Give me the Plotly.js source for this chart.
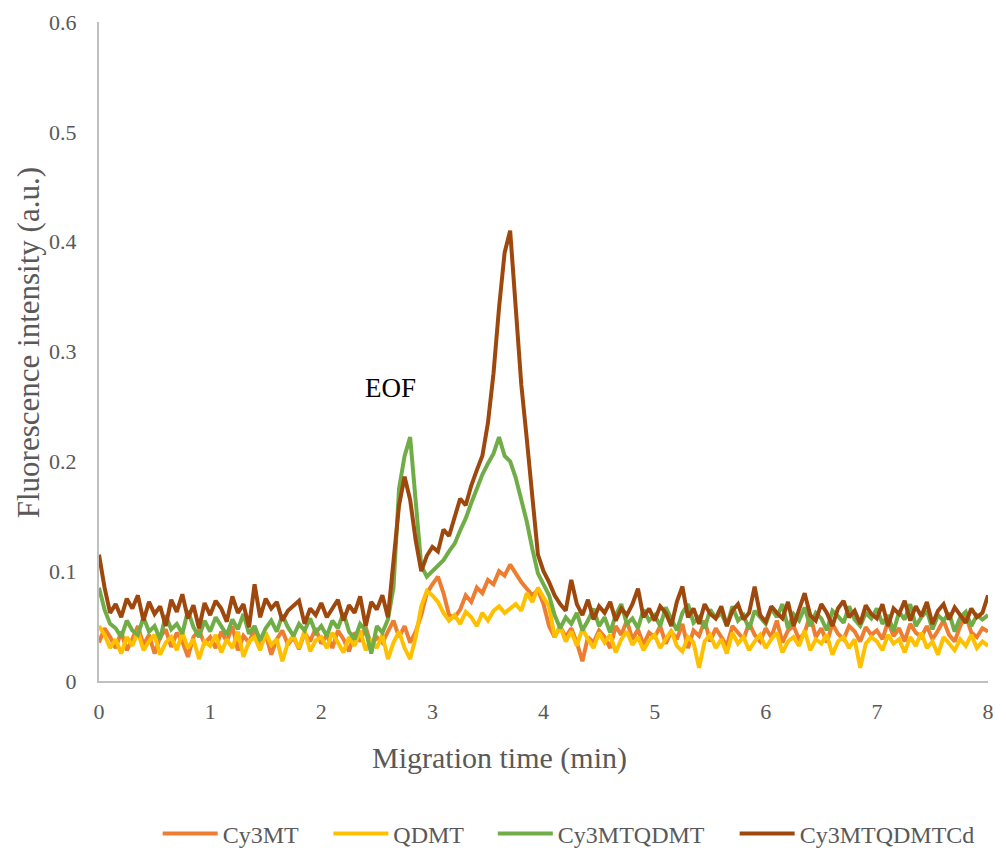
<!DOCTYPE html>
<html>
<head>
<meta charset="utf-8">
<script src="https://cdn.plot.ly/plotly-3.0.1.min.js"></script>
<style>html,body{margin:0;padding:0;background:#fff;}#chart{width:995px;height:854px;}</style>
</head>
<body>
<div id="chart"></div>
<script>
// Migration time (min), step 0.05 from 0 to 8
const timeStep = 0.05;
const seriesNames = ["Cy3MT", "QDMT", "Cy3MTQDMT", "Cy3MTQDMTCd"];
const xTitle = "Migration time (min)";
const yTitle = "Fluorescence intensity (a.u.)";

const cy3mt = [
  0.035,0.048,0.040,0.030,0.045,0.028,0.038,0.050,0.033,0.042,0.025,0.040,0.047,0.031,0.044,0.036,0.022,0.040,0.046,0.034,
  0.040,0.030,0.045,0.036,0.050,0.028,0.041,0.035,0.047,0.030,0.043,0.024,0.038,0.046,0.033,0.040,0.029,0.044,0.036,0.048,
  0.034,0.042,0.030,0.046,0.038,0.027,0.044,0.036,0.049,0.032,0.040,0.035,0.045,0.055,0.040,0.050,0.035,0.045,0.060,0.080,
  0.088,0.095,0.080,0.060,0.058,0.065,0.078,0.072,0.085,0.080,0.092,0.088,0.100,0.096,0.106,0.098,0.090,0.084,0.078,0.083,
  0.070,0.050,0.040,0.050,0.040,0.048,0.035,0.018,0.040,0.035,0.046,0.040,0.030,0.050,0.042,0.055,0.038,0.047,0.033,0.044,
  0.040,0.050,0.034,0.045,0.038,0.052,0.030,0.046,0.041,0.055,0.036,0.048,0.040,0.032,0.050,0.044,0.038,0.053,0.042,0.036,
  0.048,0.040,0.055,0.035,0.046,0.050,0.038,0.044,0.060,0.040,0.048,0.035,0.052,0.043,0.038,0.050,0.045,0.036,0.049,0.042,
  0.046,0.038,0.054,0.041,0.048,0.036,0.052,0.044,0.040,0.050,0.038,0.046,0.055,0.042,0.036,0.050,0.060,0.044,0.040,0.048,0.045
];

const qdmt = [
  0.050,0.042,0.030,0.038,0.025,0.040,0.032,0.045,0.028,0.036,0.042,0.024,0.035,0.040,0.028,0.044,0.030,0.038,0.020,0.036,
  0.032,0.042,0.026,0.038,0.030,0.045,0.022,0.036,0.040,0.028,0.044,0.033,0.038,0.018,0.035,0.041,0.030,0.046,0.027,0.037,
  0.040,0.030,0.044,0.034,0.026,0.040,0.032,0.046,0.028,0.038,0.030,0.042,0.020,0.035,0.045,0.030,0.020,0.040,0.068,0.082,
  0.078,0.072,0.062,0.055,0.060,0.052,0.063,0.058,0.050,0.062,0.055,0.064,0.068,0.062,0.066,0.070,0.064,0.080,0.072,0.085,
  0.076,0.068,0.040,0.050,0.036,0.045,0.032,0.048,0.038,0.030,0.044,0.035,0.042,0.026,0.038,0.045,0.033,0.040,0.028,0.037,
  0.042,0.030,0.038,0.046,0.032,0.027,0.040,0.035,0.012,0.036,0.042,0.030,0.038,0.025,0.044,0.034,0.040,0.028,0.036,0.042,
  0.030,0.038,0.044,0.026,0.036,0.040,0.032,0.046,0.028,0.038,0.034,0.042,0.024,0.036,0.040,0.030,0.038,0.012,0.034,0.040,
  0.036,0.028,0.042,0.034,0.038,0.026,0.040,0.032,0.044,0.030,0.036,0.024,0.040,0.034,0.028,0.038,0.032,0.042,0.030,0.036,0.032
];

const cy3mtqdmt = [
  0.085,0.065,0.052,0.048,0.040,0.055,0.046,0.042,0.058,0.045,0.050,0.038,0.060,0.047,0.052,0.043,0.064,0.049,0.040,0.055,
  0.045,0.058,0.050,0.042,0.056,0.047,0.061,0.043,0.050,0.037,0.048,0.055,0.045,0.060,0.049,0.041,0.052,0.046,0.057,0.044,
  0.050,0.041,0.055,0.048,0.062,0.045,0.038,0.052,0.046,0.025,0.050,0.044,0.056,0.085,0.175,0.205,0.222,0.160,0.105,0.095,
  0.100,0.104,0.110,0.118,0.125,0.137,0.148,0.162,0.175,0.188,0.198,0.207,0.222,0.205,0.200,0.185,0.165,0.145,0.120,0.098,
  0.088,0.078,0.060,0.048,0.058,0.052,0.062,0.046,0.055,0.066,0.050,0.058,0.044,0.060,0.070,0.052,0.057,0.048,0.065,0.055,
  0.060,0.050,0.067,0.056,0.046,0.062,0.070,0.053,0.058,0.048,0.065,0.057,0.062,0.050,0.068,0.055,0.060,0.047,0.064,0.058,
  0.052,0.066,0.058,0.070,0.048,0.061,0.055,0.067,0.050,0.062,0.057,0.046,0.064,0.059,0.053,0.068,0.056,0.050,0.062,0.057,
  0.066,0.052,0.060,0.045,0.063,0.056,0.070,0.050,0.058,0.064,0.047,0.060,0.055,0.062,0.045,0.058,0.063,0.050,0.060,0.056,0.060
];

const cy3mtqdmtcd = [
  0.115,0.085,0.062,0.070,0.058,0.075,0.066,0.078,0.055,0.072,0.061,0.068,0.050,0.074,0.063,0.079,0.057,0.069,0.048,0.071,
  0.060,0.073,0.066,0.054,0.077,0.062,0.070,0.049,0.088,0.058,0.075,0.066,0.072,0.055,0.064,0.068,0.073,0.052,0.066,0.060,
  0.071,0.058,0.066,0.074,0.055,0.069,0.062,0.077,0.050,0.072,0.065,0.078,0.058,0.110,0.160,0.186,0.165,0.128,0.100,0.114,
  0.122,0.118,0.138,0.132,0.150,0.166,0.160,0.178,0.192,0.205,0.235,0.280,0.340,0.390,0.410,0.345,0.270,0.220,0.170,0.115,
  0.100,0.090,0.078,0.070,0.064,0.092,0.070,0.060,0.074,0.056,0.068,0.062,0.072,0.055,0.066,0.060,0.070,0.084,0.058,0.066,
  0.055,0.068,0.062,0.050,0.072,0.086,0.058,0.066,0.052,0.070,0.061,0.057,0.068,0.050,0.064,0.070,0.056,0.062,0.086,0.060,
  0.054,0.068,0.062,0.057,0.072,0.050,0.065,0.080,0.060,0.055,0.070,0.062,0.050,0.066,0.073,0.058,0.064,0.052,0.069,0.061,
  0.057,0.070,0.050,0.066,0.061,0.073,0.055,0.068,0.059,0.072,0.052,0.064,0.070,0.056,0.067,0.060,0.053,0.066,0.058,0.062,0.078
];

const xTickVals = [0,1,2,3,4,5,6,7,8];
const yTickVals = [0,0.1,0.2,0.3,0.4,0.5,0.6];
const yTickText = ["0","0.1","0.2","0.3","0.4","0.5","0.6"];

const times = cy3mt.map((_, i) => +(i * timeStep).toFixed(2));
const seriesData = [cy3mt, qdmt, cy3mtqdmt, cy3mtqdmtcd];
const colors = ["#ED7D31", "#FFC000", "#70AD47", "#9E480E"];
const legendIds = ["legend", "legend2", "legend3", "legend4"];

const traces = seriesData.map((ys, k) => ({
  x: times, y: ys, type: "scatter", mode: "lines", name: seriesNames[k],
  legend: legendIds[k],
  line: {color: colors[k], width: 4, shape: "linear"}
}));

const fontFam = "Liberation Serif";
const legFont = {family: fontFam, size: 24, color: "#595959"};
function leg(xp) {
  return {orientation: "h", x: xp, xanchor: "left", y: -0.232, yanchor: "middle",
          font: legFont, itemwidth: 55, bgcolor: "rgba(0,0,0,0)"};
}
const layout = {
  width: 995, height: 854,
  margin: {l: 99, r: 7, t: 22, b: 173, autoexpand: false},
  paper_bgcolor: "#fff", plot_bgcolor: "#fff",
  font: {family: fontFam, color: "#595959", size: 22},
  showlegend: true,
  legend: leg(0.066), legend2: leg(0.258), legend3: leg(0.443), legend4: leg(0.715),
  xaxis: {range: [0, 8], tickvals: xTickVals, showgrid: false, zeroline: false,
          showline: true, linecolor: "#bfbfbf", linewidth: 2, ticks: "",
          ticklabelstandoff: 10,
          tickfont: {family: fontFam, size: 22, color: "#595959"}},
  yaxis: {range: [0, 0.6], tickvals: yTickVals, ticktext: yTickText, showgrid: false, zeroline: false,
          showline: true, linecolor: "#bfbfbf", linewidth: 2, ticks: "",
          ticklabelstandoff: 16,
          tickfont: {family: fontFam, size: 22, color: "#595959"}},
  annotations: [
    {x: 2.62, y: 0.267, xref: "x", yref: "y", text: "EOF", showarrow: false,
     font: {family: fontFam, size: 27, color: "#000"}},
    {x: 0.451, y: -0.117, xref: "paper", yref: "paper", text: xTitle, showarrow: false,
     xanchor: "center", yanchor: "middle", font: {family: fontFam, size: 30, color: "#595959"}},
    {x: -0.0799, y: 0.514, xref: "paper", yref: "paper", text: yTitle, showarrow: false, textangle: -90,
     xanchor: "center", yanchor: "middle", font: {family: fontFam, size: 31, color: "#595959"}}
  ]
};

Plotly.newPlot("chart", traces, layout, {displayModeBar: false, staticPlot: true});
</script>
</body>
</html>
